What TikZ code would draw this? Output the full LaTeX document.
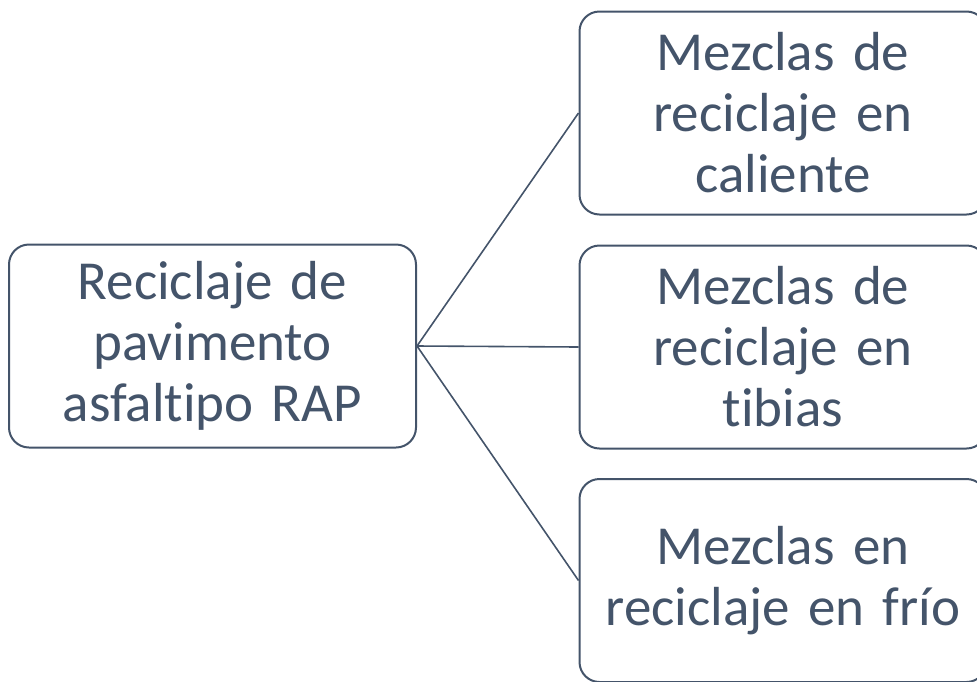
\documentclass[tikz,border=0pt]{standalone}
\usepackage{fontspec}
\setmainfont{Carlito}[Ligatures=NoCommon]
\definecolor{slate}{RGB}{68,84,106}
\tikzset{
  rapbox/.style={draw=slate, line width=2pt, rounded corners=20pt, fill=white,
    minimum width=407pt, minimum height=203pt, text width=400pt, align=center,
    text=slate, inner sep=0pt, font=\fontsize{55}{61}\selectfont},
  branch/.style={draw=slate, line width=1.6pt}
}
\begin{document}
\begin{tikzpicture}[x=1pt,y=1pt,yscale=-1,xscale=1]
\useasboundingbox (0,0) rectangle (977,681);
\clip (0,0) rectangle (977,681);

%Rounded Rect: root
\node [rapbox] (root) at (212.5,346) {Reciclaje de\\pavimento\\asfaltipo RAP};
%Rounded Rect: hot
\node [rapbox] (hot) at (783,113) {Mezclas de\\reciclaje en\\caliente};
%Rounded Rect: warm
\node [rapbox] (warm) at (783,347) {Mezclas de\\reciclaje en\\tibias};
%Rounded Rect: cold
\node [rapbox] (cold) at (783,580.5) {Mezclas en\\reciclaje en frío};

%Straight Lines
\draw [branch] (root.east) -- (hot.west) ;
\draw [branch] (root.east) -- (warm.west) ;
\draw [branch] (root.east) -- (cold.west) ;

\end{tikzpicture}
\end{document}
